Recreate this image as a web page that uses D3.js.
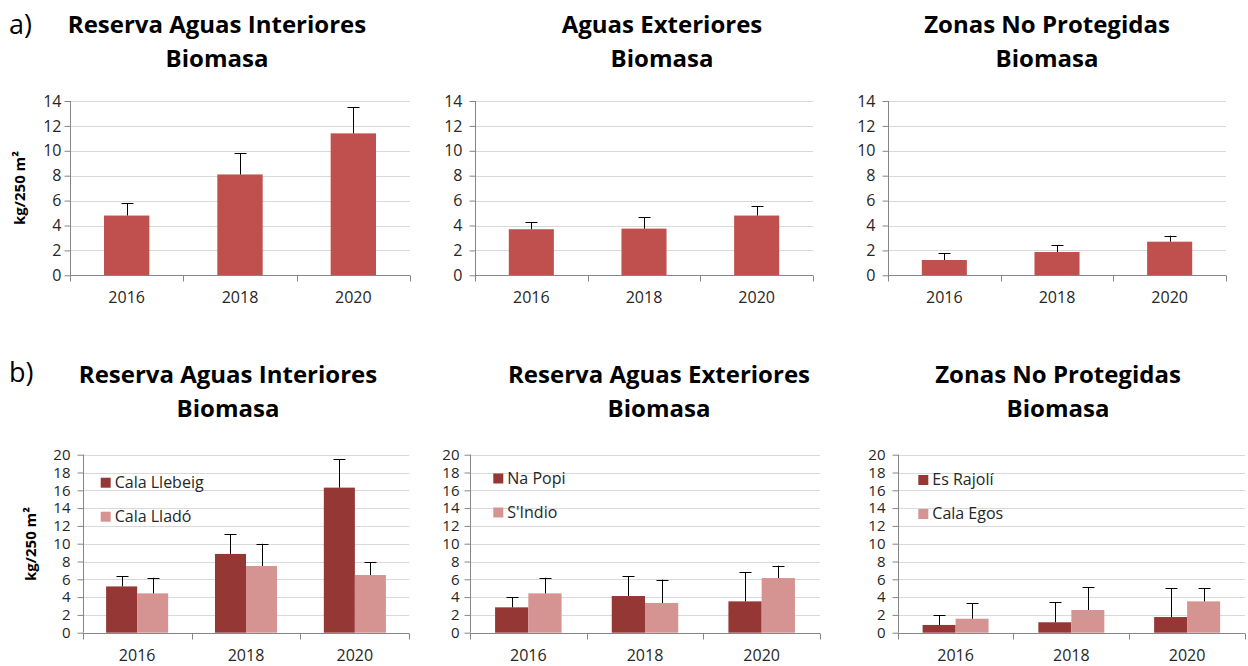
<!DOCTYPE html>
<html><head><meta charset="utf-8">
<script src="https://cdn.jsdelivr.net/npm/d3@7"></script>
<style>
html,body{margin:0;padding:0;background:#fff;}
svg{display:block;font-family:"Open Sans","Noto Sans",sans-serif;}
</style></head>
<body><svg id="c" width="1248" height="666"></svg>
<script>
// ---------- DATA ----------
const years = ["2016", "2018", "2020"];

// Row a) single series per panel
const aTitles = [["Reserva Aguas Interiores", "Biomasa"], ["Aguas Exteriores", "Biomasa"], ["Zonas No Protegidas", "Biomasa"]];
const aInteriores = [4.8, 8.1, 11.4];
const aInterioresErr = [1.0, 1.7, 2.1];
const aExteriores = [3.7, 3.75, 4.8];
const aExterioresErr = [0.55, 0.9, 0.75];
const aNoProt = [1.23, 1.87, 2.7];
const aNoProtErr = [0.53, 0.53, 0.48];
const aTicks = [0, 2, 4, 6, 8, 10, 12, 14];

// Row b) two sites per panel
const bTitles = [["Reserva Aguas Interiores", "Biomasa"], ["Reserva Aguas Exteriores", "Biomasa"], ["Zonas No Protegidas", "Biomasa"]];
const bSites = [["Cala Llebeig", "Cala Lladó"], ["Na Popi", "S'Indio"], ["Es Rajolí", "Cala Egos"]];
const calaLlebeig = [5.2, 8.85, 16.3];
const calaLlebeigErr = [1.15, 2.2, 3.2];
const calaLlado = [4.42, 7.49, 6.48];
const calaLladoErr = [1.76, 2.5, 1.42];
const naPopi = [2.85, 4.12, 3.52];
const naPopiErr = [1.16, 2.25, 3.26];
const sIndio = [4.42, 3.34, 6.14];
const sIndioErr = [1.76, 2.62, 1.39];
const esRajoli = [0.87, 1.17, 1.76];
const esRajoliErr = [1.08, 2.24, 3.23];
const calaEgos = [1.57, 2.55, 3.52];
const calaEgosErr = [1.73, 2.55, 1.47];
const bTicks = [0, 2, 4, 6, 8, 10, 12, 14, 16, 18, 20];

const yLabel = "kg/250 m²";
const rowLabels = ["a)", "b)"];

// ---------- STYLE / LAYOUT ----------
const colA = "#C0504D", colDark = "#953735", colLight = "#D59391";
const gridCol = "#D9D9D9", axisCol = "#868686";

const svg = d3.select("#c");

const aPanels = [
  {x0: 70, x1: 410, y0: 101, y1: 275.3, tcx: 217, vals: [aInteriores], errs: [aInterioresErr], tickGap: 9},
  {x0: 475, x1: 813, y0: 101, y1: 275.3, tcx: 662, vals: [aExteriores], errs: [aExterioresErr], tickGap: 13},
  {x0: 888, x1: 1226, y0: 101, y1: 275.3, tcx: 1047, vals: [aNoProt], errs: [aNoProtErr], tickGap: 13}
];
const bPanels = [
  {x0: 82.7, x1: 409.3, y0: 454.7, y1: 632.7, tcx: 228, vals: [calaLlebeig, calaLlado], errs: [calaLlebeigErr, calaLladoErr], tickGap: 13, lx: 100.7, ly: 477.7},
  {x0: 470, x1: 820, y0: 454.7, y1: 632.7, tcx: 659, vals: [naPopi, sIndio], errs: [naPopiErr, sIndioErr], tickGap: 11, lx: 493.3, ly: 473.5},
  {x0: 897.7, x1: 1245, y0: 454.7, y1: 632.7, tcx: 1058, vals: [esRajoli, calaEgos], errs: [esRajoliErr, calaEgosErr], tickGap: 13, lx: 918.3, ly: 475}
];

function drawPanel(p, ticks, ymax, colors, padding, titles, titleY, legendNames, tickFont) {
  const g = svg.append("g");
  const y = d3.scaleLinear().domain([0, ymax]).range([p.y1, p.y0]);
  const x = d3.scaleBand().domain(years).range([p.x0, p.x1]).paddingInner(padding).paddingOuter(padding / 2);
  const step = x.step();

  // gridlines
  g.append("g").selectAll("line").data(ticks.filter(t => t > 0)).join("line")
    .attr("x1", p.x0).attr("x2", p.x1)
    .attr("y1", d => Math.round(y(d)) + 0.5).attr("y2", d => Math.round(y(d)) + 0.5)
    .attr("stroke", gridCol).attr("stroke-width", 1);

  // y axis via d3 axis
  const yAxis = d3.axisLeft(y).tickValues(ticks).tickSize(6).tickPadding(p.tickGap - 6);
  const ya = g.append("g").attr("transform", `translate(${Math.round(p.x0) + 0.5},0)`).call(yAxis);
  ya.select(".domain").attr("stroke", axisCol).attr("d", `M0,${p.y1}V${p.y0}`);
  ya.selectAll(".tick line").attr("stroke", axisCol);
  ya.selectAll(".tick text").attr("font-size", tickFont).attr("fill", "#262626").attr("font-family", "Open Sans, sans-serif");

  // bars
  const sub = d3.scaleBand().domain(d3.range(p.vals.length)).range([0, x.bandwidth()]);
  p.vals.forEach((vals, si) => {
    const errs = p.errs[si];
    const bg = g.append("g");
    bg.selectAll("rect").data(years).join("rect")
      .attr("x", (d) => x(d) + sub(si))
      .attr("width", sub.bandwidth())
      .attr("y", (d, i) => y(vals[i]))
      .attr("height", (d, i) => y(0) - y(vals[i]))
      .attr("fill", colors[si]);
    // error bars (upper only)
    const eg = g.append("g").attr("stroke", "#000").attr("stroke-width", 1);
    years.forEach((d, i) => {
      const cx = Math.round(x(d) + sub(si) + sub.bandwidth() / 2) + 0.5;
      const top = y(vals[i] + errs[i]);
      eg.append("line").attr("x1", cx).attr("x2", cx).attr("y1", y(vals[i])).attr("y2", top);
      eg.append("line").attr("x1", cx - 6).attr("x2", cx + 6).attr("y1", Math.round(top) + 0.5).attr("y2", Math.round(top) + 0.5);
    });
  });

  // x axis line + ticks at category boundaries
  const xa = g.append("g");
  const yb = Math.round(p.y1) + 0.5;
  xa.append("line").attr("x1", p.x0).attr("x2", p.x1).attr("y1", yb).attr("y2", yb).attr("stroke", axisCol);
  const bounds = d3.range(years.length + 1).map(i => p.x0 + i * step);
  xa.selectAll("line.t").data(bounds).join("line").attr("class", "t")
    .attr("x1", d => Math.round(d) + 0.5).attr("x2", d => Math.round(d) + 0.5)
    .attr("y1", yb).attr("y2", yb + 6).attr("stroke", axisCol);
  xa.selectAll("text").data(years).join("text")
    .attr("x", d => x(d) + x.bandwidth() / 2).attr("y", p.y1 + 28)
    .attr("text-anchor", "middle").attr("font-size", 16).attr("fill", "#262626")
    .text(d => d);

  // titles
  titles.forEach((t, i) => {
    g.append("text").attr("x", p.tcx).attr("y", titleY + i * 34)
      .attr("text-anchor", "middle").attr("font-size", 24).attr("font-weight", "bold")
      .attr("fill", "#000").text(t);
  });

  // legend
  if (legendNames) {
    legendNames.forEach((n, i) => {
      const ly = p.ly + i * 34;
      g.append("rect").attr("x", p.lx).attr("y", ly).attr("width", 10).attr("height", 10).attr("fill", colors[i]);
      g.append("text").attr("x", p.lx + 14).attr("y", ly + 10).attr("font-size", 16).attr("fill", "#262626").text(n);
    });
  }
}

aPanels.forEach((p, i) => drawPanel(p, aTicks, 14, [colA], 0.6, aTitles[i], 33, null, 16));
bPanels.forEach((p, i) => drawPanel(p, bTicks, 20, [colDark, colLight], 0.43, bTitles[i], 383, bSites[i], 15));

// row labels
svg.append("text").attr("x", 9).attr("y", 34).attr("font-size", 27).attr("fill", "#000").text(rowLabels[0]);
svg.append("text").attr("x", 9).attr("y", 382).attr("font-size", 27).attr("fill", "#000").text(rowLabels[1]);

// y axis titles
[[20, 188], [31, 544]].forEach(([cx, cy]) => {
  svg.append("text").attr("transform", `translate(${cx},${cy}) rotate(-90)`)
    .attr("text-anchor", "middle").attr("dy", "0.35em")
    .attr("font-size", 15).attr("font-weight", "bold").attr("fill", "#000").text(yLabel);
});
</script>
</body></html>
